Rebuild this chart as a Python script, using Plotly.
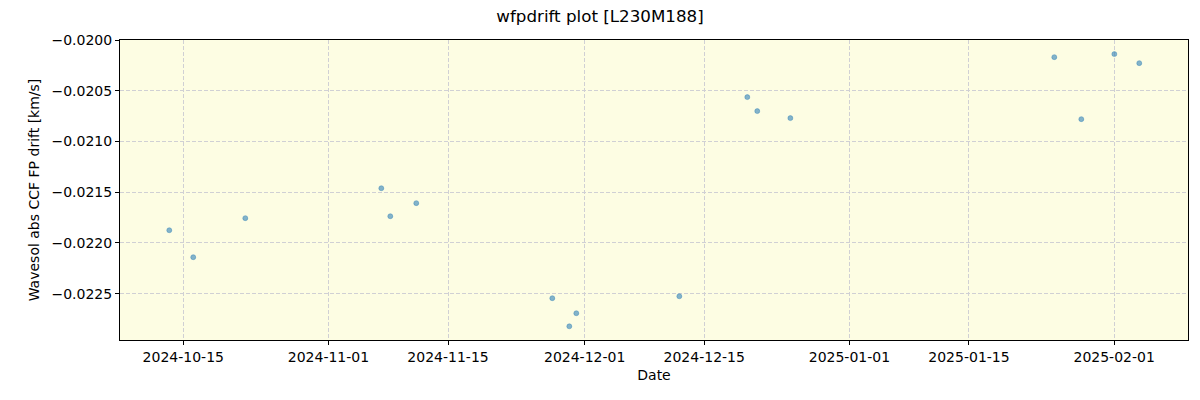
import plotly.graph_objects as go

dates = [
    "2024-10-13 08:40", "2024-10-16 04:00", "2024-10-22 06:15",
    "2024-11-07 04:30", "2024-11-08 05:45", "2024-11-11 06:45",
    "2024-11-27 05:00", "2024-11-29 04:50", "2024-11-30 00:30",
    "2024-12-12 02:00", "2024-12-20 01:00", "2024-12-21 05:00",
    "2024-12-25 02:00", "2025-01-24 23:45", "2025-01-28 03:40",
    "2025-02-01 00:30", "2025-02-03 22:30",
]
drift = [
    -0.021875, -0.022141, -0.021756,
    -0.021461, -0.021737, -0.021608,
    -0.022545, -0.022822, -0.022693,
    -0.022526, -0.020563, -0.020701,
    -0.020770, -0.020169, -0.020780,
    -0.020139, -0.020228,
]

xtick_vals = ["2024-10-15", "2024-11-01", "2024-11-15", "2024-12-01",
              "2024-12-15", "2025-01-01", "2025-01-15", "2025-02-01"]
xtick_text = xtick_vals
x_range = ["2024-10-07 14:10", "2025-02-09 15:30"]
y_range = [-0.022957, -0.0200]

fig = go.Figure()
fig.add_trace(go.Scatter(
    x=dates, y=drift, mode="markers",
    marker=dict(size=5, color="rgba(31,119,180,0.55)",
                line=dict(width=0.6, color="rgba(31,119,180,0.6)")),
    showlegend=False,
))

axis_common = dict(
    showline=True, linecolor="black", linewidth=1, mirror=True,
    ticks="outside", ticklen=4, tickcolor="black", tickwidth=1,
    showgrid=True, gridcolor="#d0d0d4", griddash="4px,2px", gridwidth=1,
    zeroline=False,
    tickfont=dict(family="DejaVu Sans", size=14, color="black"),
)

fig.update_layout(
    width=1200, height=400,
    margin=dict(l=120, r=12, t=40, b=60),
    paper_bgcolor="white",
    plot_bgcolor="#fdfde3",
    font=dict(family="DejaVu Sans", color="black"),
    title=dict(text="wfpdrift plot [L230M188]", x=0.5, xanchor="center",
               y=0.96, yanchor="middle", font=dict(size=16.7, family="DejaVu Sans")),
    xaxis=dict(range=x_range, tickvals=xtick_vals, ticktext=xtick_text,
               title=dict(text="Date", font=dict(size=14), standoff=6),
               **axis_common),
    yaxis=dict(range=y_range, tick0=-0.0200, dtick=0.0005, tickformat=".4f",
               title=dict(text="Wavesol abs CCF FP drift [km/s]", font=dict(size=14), standoff=8),
               **axis_common),
)

fig.write_html("out.html", config={"displayModeBar": False},
               post_script="document.body.style.margin='0px';")
